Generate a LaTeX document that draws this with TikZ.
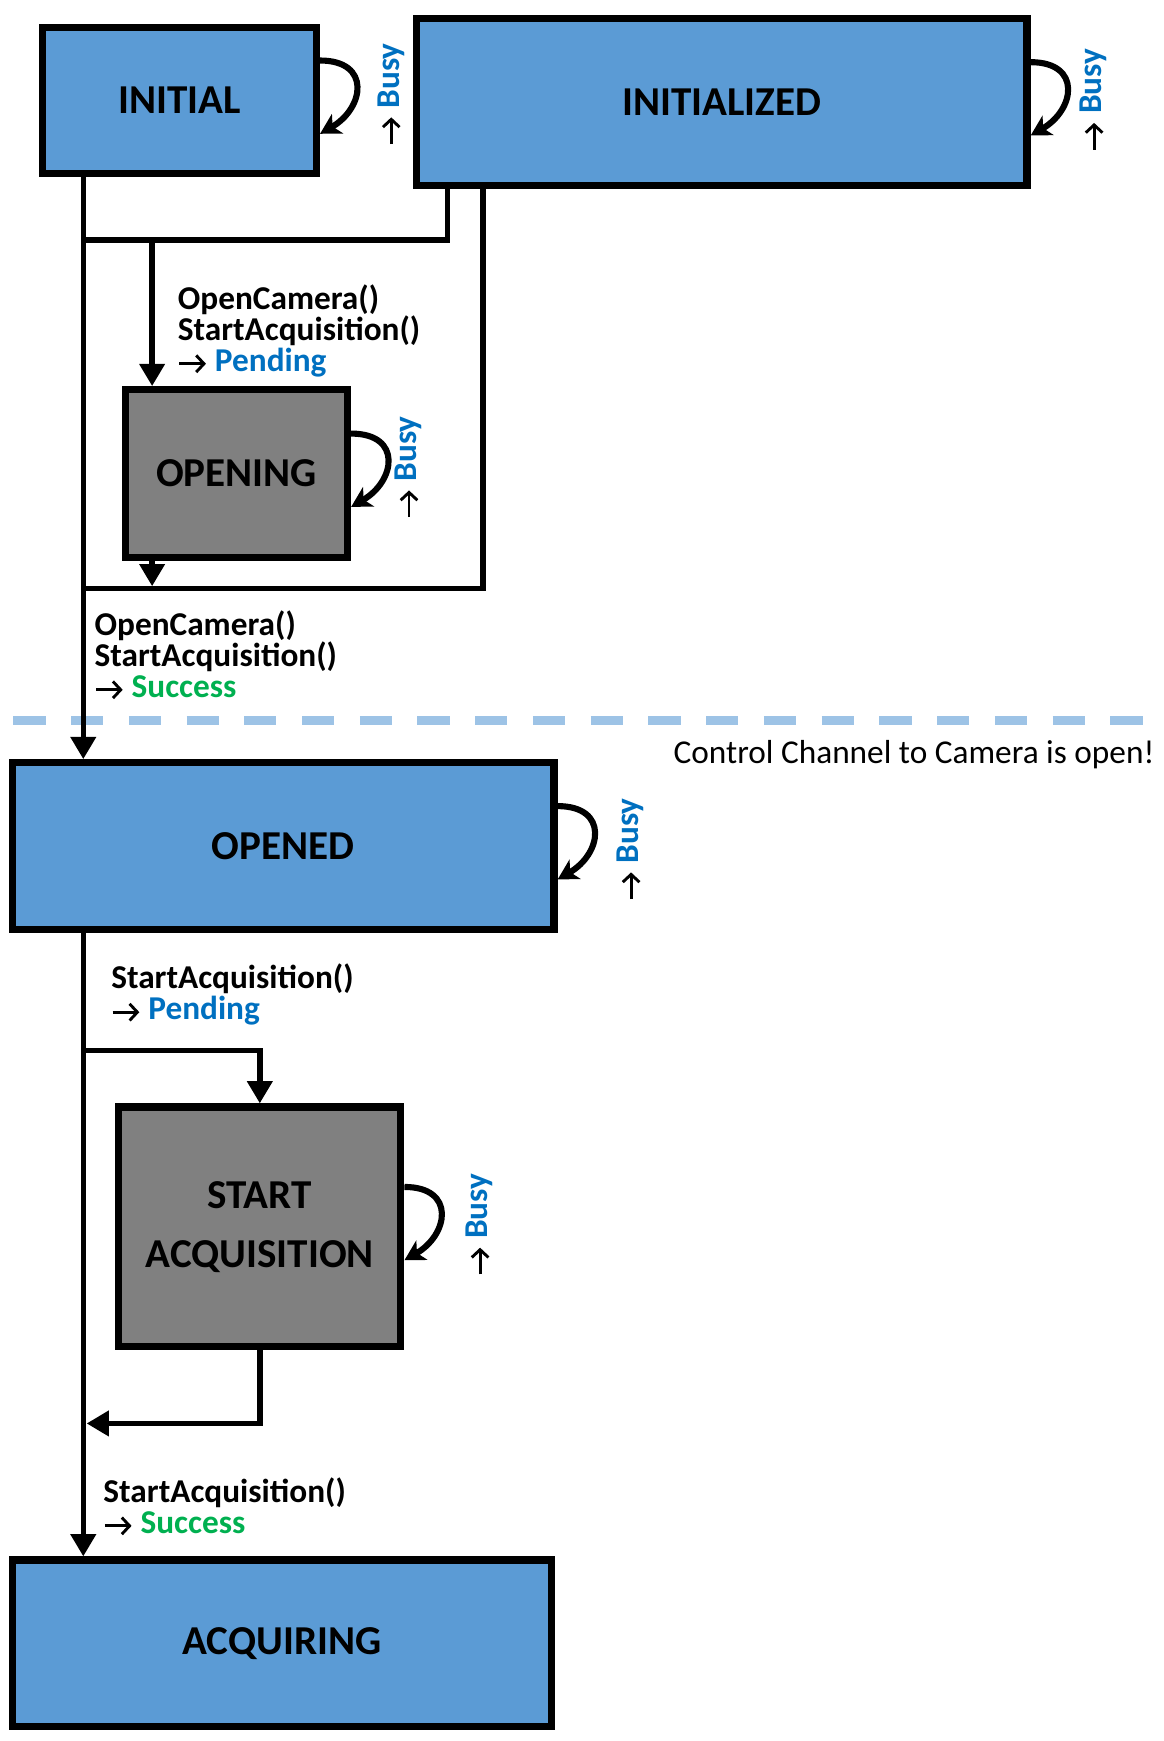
\documentclass[tikz,border=0pt]{standalone}
\usepackage{fontspec}
\setmainfont{Carlito}
\usetikzlibrary{arrows.meta,positioning,calc}

\definecolor{stblue}{HTML}{5B9BD5}
\definecolor{stgray}{HTML}{808080}
\definecolor{txblue}{HTML}{0070C0}
\definecolor{txgreen}{HTML}{00B050}
\definecolor{chline}{HTML}{9DC3E6}

\newcommand{\resarrow}{\tikz[baseline=-7pt, x=1pt, y=1pt]\draw[black, line width=2.6pt, -{Straight Barb[length=7pt,width=15pt]}] (0,0) -- (24,0);}

\tikzset{
  state/.style={draw, line width=6.5pt, fill=stblue, align=center, inner sep=0pt,
    font=\fontsize{37}{53}\selectfont\bfseries},
  waitstate/.style={state, fill=stgray},
  conn/.style={line width=5pt},
  arr/.style={conn, -{Triangle[length=20pt,width=22pt]}},
  selfloop/.style={line width=5.5pt, -{Stealth[length=18pt,width=20pt,inset=5pt]}, looseness=1.8},
  busylbl/.style={rotate=90, inner sep=0pt, font=\fontsize{30}{30}\selectfont\bfseries},
  trlbl/.style={anchor=west, align=left, inner sep=0pt, font=\fontsize{30}{28}\selectfont\bfseries},
}

\begin{document}
\begin{tikzpicture}[x=1pt, y=-1pt]
  \useasboundingbox (0,0) rectangle (1048,1568);
  % states
  \node[state, minimum width=247pt, minimum height=131pt] (initial) at (161.5,90.5) {INITIAL};
  \node[state, minimum width=550pt, minimum height=150pt] (initialized) at (650,92) {INITIALIZED};
  \node[waitstate, minimum width=200pt, minimum height=151pt] (opening) at (213,426.5) {OPENING};
  \node[state, minimum width=488pt, minimum height=150pt] (opened) at (255,762) {OPENED};
  \node[waitstate, minimum width=254pt, minimum height=216pt] (startacq) at (234,1105) {START\\ACQUISITION};
  \node[state, minimum width=486pt, minimum height=150pt] (acquiring) at (254,1480) {ACQUIRING};

  % junctions
  \coordinate (jA) at (75,216);
  \coordinate (jB) at (137,216);
  \coordinate (jC) at (137,528);
  \coordinate (jD) at (75,530);
  \coordinate (jG) at (435,530);
  \coordinate (jH) at (403,216);
  \coordinate (jE) at (75,946);
  \coordinate (jF) at (78,1282);
  \coordinate (dl) at (12,649);
  \coordinate (dr) at (1040,649);

  % channel border
  \draw[chline, line width=7.5pt, dash pattern=on 29pt off 23pt] (dl) -- (dr);
  \node[anchor=east, inner sep=0pt, font=\fontsize{30}{30}\selectfont] (chnote) at (1040,680) {Control Channel to Camera is open!};

  % transitions
  \draw[arr] (initial.south -| jA) -- (opened.north -| jA);
  \draw[conn] (initialized.south -| jH) -- (jH) -- (jA);
  \draw[arr] (jB) -- (opening.north -| jB);
  \draw[arr] (opening.south -| jB) -- (jC);
  \draw[conn] (initialized.south -| jG) -- (jG) -- (jD);
  \draw[arr] (opened.south -| jA) -- (acquiring.north -| jA);
  \draw[arr] (jE) -| (startacq.north);
  \draw[arr] (startacq.south) |- (jF);

  \node[trlbl] (lblopen) at (160,298) {OpenCamera()\\StartAcquisition()\\\resarrow\ \textcolor{txblue}{Pending}};
  \node[trlbl] (lblopened) at (85,590) {OpenCamera()\\StartAcquisition()\\\resarrow\ \textcolor{txgreen}{Success}};
  \node[trlbl] (lblstart) at (100,896) {StartAcquisition()\\\resarrow\ \textcolor{txblue}{Pending}};
  \node[trlbl] (lblacq) at (93,1357) {StartAcquisition()\\\resarrow\ \textcolor{txgreen}{Success}};

  % busy loops
  \foreach \s in {initial,initialized,opening,opened,startacq}
    \draw[selfloop] ([yshift=36pt]\s.east) to[out=0,in=30] ([yshift=-30pt]\s.east);
  \node[busylbl] (busyinit) at (352,85) {\resarrow\ \textcolor{txblue}{Busy}};
  \node[busylbl] (busyinitd) at (985,90) {\resarrow\ \textcolor{txblue}{Busy}};
  \node[busylbl] (busyopening) at (368,421) {\resarrow\ \textcolor{txblue}{Busy}};
  \node[busylbl] (busyopened) at (568,765) {\resarrow\ \textcolor{txblue}{Busy}};
  \node[busylbl] (busystart) at (432,1103) {\resarrow\ \textcolor{txblue}{Busy}};
\end{tikzpicture}
\end{document}
